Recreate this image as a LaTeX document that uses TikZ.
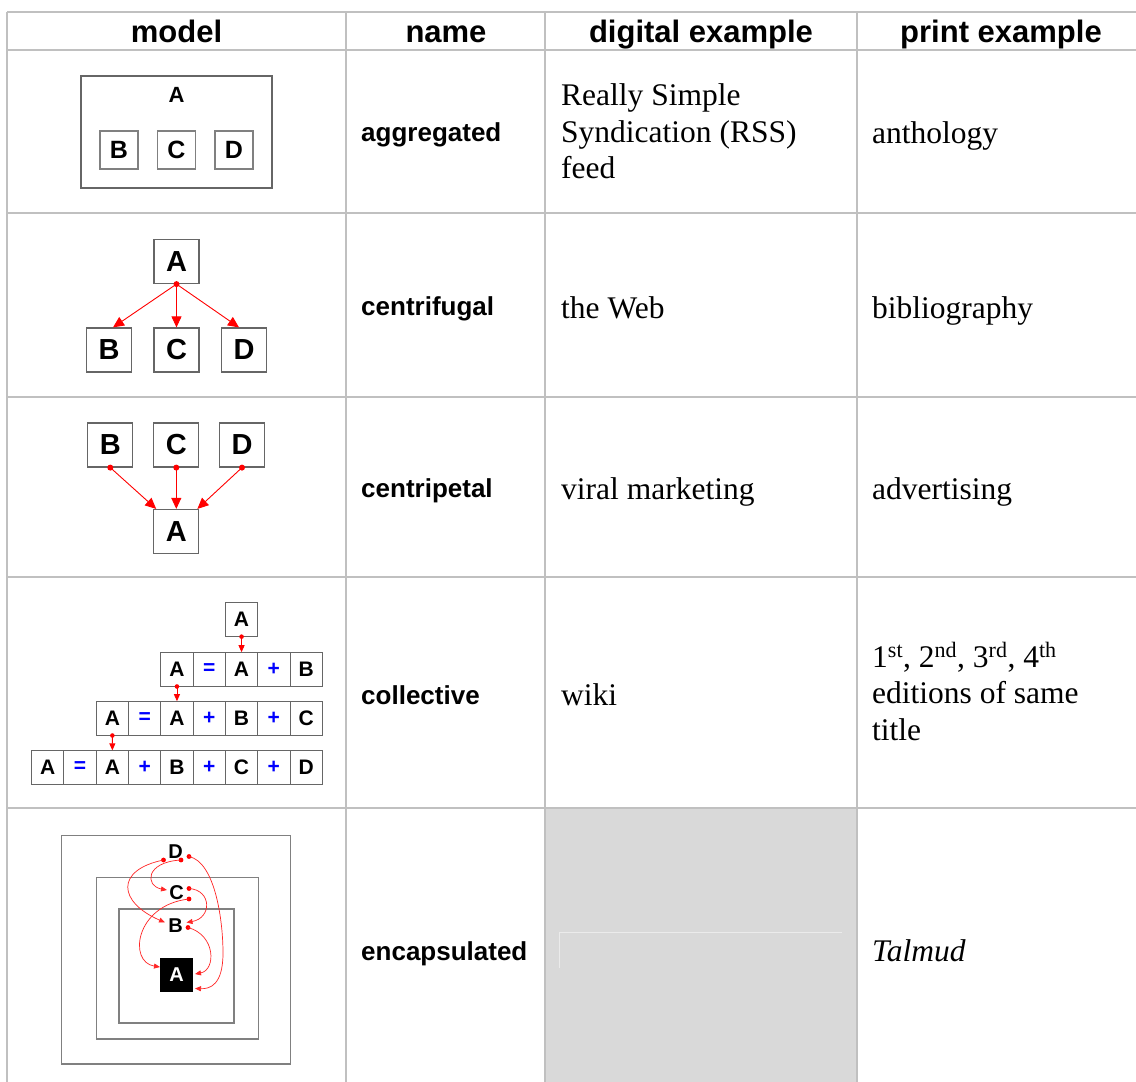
\documentclass[tikz,border=0pt]{standalone}
\usepackage{fontspec}
\setmainfont{Liberation Serif}
\newfontfamily\sansf{Liberation Sans}
\usetikzlibrary{arrows.meta}
\definecolor{gridgray}{HTML}{C0C0C0}
\definecolor{boxgray}{HTML}{666666}
\definecolor{lightbox}{HTML}{808080}
\definecolor{cellfill}{HTML}{D9D9D9}
\definecolor{faint}{HTML}{EBEBEB}
\definecolor{opblue}{HTML}{0000FF}
\newcommand\opsym[1]{\textcolor{opblue}{#1}}
\begin{document}
\begin{tikzpicture}[x=1pt,y=-1pt,
  grid/.style={draw=gridgray,line width=2pt},
  hdr/.style={font={\sansf\bfseries\fontsize{31}{31}\selectfont},inner sep=0pt,anchor=base},
  nm/.style={font={\sansf\bfseries\fontsize{26}{26}\selectfont},inner sep=0pt,anchor=base west},
  ex/.style={font={\fontsize{31.5}{36.5}\selectfont},inner sep=0pt,anchor=base west,align=left},
  bigl/.style={draw=boxgray,line width=1.2pt,inner sep=0pt,minimum width=45pt,minimum height=44pt,font={\sansf\bfseries\fontsize{29}{29}\selectfont}},
  smallb/.style={draw=lightbox,line width=1.2pt,inner sep=0pt,minimum size=38pt,font={\sansf\bfseries\fontsize{25}{25}\selectfont}},
  cell/.style={draw=boxgray,line width=1pt,inner sep=0pt,minimum width=32.3pt,minimum height=33.3pt,font={\sansf\bfseries\fontsize{21}{21}\selectfont}},
  encbox/.style={draw=lightbox,line width=1.2pt,inner sep=0pt},
  enclab/.style={inner sep=0pt,font={\sansf\bfseries\fontsize{20}{20}\selectfont}},
  rarrow/.style={draw=red,line width=0.9pt,-{Triangle[length=11pt,width=10pt]}},
  sarrow/.style={draw=red,line width=0.9pt,-{Triangle[length=7pt,width=6pt]}},
  tarrow/.style={draw=red!85,line width=0.7pt,-{Triangle[length=6pt,width=5pt]}}]
\useasboundingbox (0,0) rectangle (1136,1082);
\fill[white] (0,0) rectangle (1136,1082);
% gray cell
\fill[cellfill] (545,808) rectangle (857,1082);
\draw[faint,line width=1pt] (559.5,968) -- (559.5,932) -- (842,932);
% grid
\draw[grid] (7,12) -- (1136,12);
\foreach \yy in {50,213,397,577,808} \draw[grid] (7,\yy) -- (1136,\yy);
\foreach \xx in {7,346,545,857} \draw[grid] (\xx,12) -- (\xx,1082);
% header
\node[hdr] (hmodel) at (176.5,42) {model};
\node[hdr] (hname) at (446,42) {name};
\node[hdr] (hdig) at (701,42) {digital example};
\node[hdr] (hprint) at (1001,42) {print example};
% names
\node[nm] (n1) at (361,141) {aggregated};
\node[nm] (n2) at (361,315) {centrifugal};
\node[nm] (n3) at (361,497) {centripetal};
\node[nm] (n4) at (361,704) {collective};
\node[nm] (n5) at (361,960) {encapsulated};
% digital examples (base anchor = baseline of last line)
\node[ex] (d1) at (561,178.7) {Really Simple\\Syndication (RSS)\\feed};
\node[ex] (d2) at (561,318) {the Web};
\node[ex] (d3) at (561,499) {viral marketing};
\node[ex] (d4) at (561,705) {wiki};
% print examples
\node[ex] (p1) at (872,143) {anthology};
\node[ex] (p2) at (872,318) {bibliography};
\node[ex] (p3) at (872,499) {advertising};
\node[ex] (p4) at (872,740) {1\textsuperscript{st}, 2\textsuperscript{nd}, 3\textsuperscript{rd}, 4\textsuperscript{th}\\editions of same\\title};
\node[ex,font={\fontsize{31.5}{36.5}\selectfont\itshape}] (p5) at (872,961) {Talmud};
% row 1: aggregated
\node[draw=boxgray,line width=1.2pt,minimum width=191pt,minimum height=112pt,inner sep=0pt] (aggbox) at (176.5,132) {};
\node[inner sep=0pt,font={\sansf\bfseries\fontsize{22}{22}\selectfont}] (aggA) at (176.5,95) {A};
\node[smallb] (aggB) at (119,150) {B};
\node[smallb] (aggC) at (176.5,150) {C};
\node[smallb] (aggD) at (234,150) {D};
% row 2: centrifugal
\node[bigl] (cfA) at (176.5,261.5) {A};
\node[bigl] (cfB) at (109,350) {B};
\node[bigl] (cfC) at (176.5,350) {C};
\node[bigl] (cfD) at (244,350) {D};
\fill[red] (cfA.south) circle (3pt);
\draw[rarrow] (cfA.south) -- ([xshift=4pt]cfB.north);
\draw[rarrow] (cfA.south) -- (cfC.north);
\draw[rarrow] (cfA.south) -- ([xshift=-5pt]cfD.north);
% row 3: centripetal
\node[bigl] (cpB) at (110.3,445) {B};
\node[bigl] (cpC) at (176.3,445) {C};
\node[bigl] (cpD) at (242,445) {D};
\node[bigl] (cpA) at (176.3,531.5) {A};
\foreach \n in {cpB,cpC,cpD} \fill[red] (\n.south) circle (3pt);
\draw[rarrow] (cpB.south) -- ([xshift=3pt]cpA.north west);
\draw[rarrow] (cpC.south) -- (cpA.north);
\draw[rarrow] (cpD.south) -- ([xshift=-2pt]cpA.north east);
% row 4: collective
\node[cell] (rt) at (241.55,619.5) {A};
\foreach \t [count=\i] in {A,\opsym{=},A,\opsym{+},B}
  \node[cell] (ra\i) at ({160.8+16.15+(\i-1)*32.3},669.35) {\t};
\foreach \t [count=\i] in {A,\opsym{=},A,\opsym{+},B,\opsym{+},C}
  \node[cell] (rb\i) at ({96.2+16.15+(\i-1)*32.3},718.35) {\t};
\foreach \t [count=\i] in {A,\opsym{=},A,\opsym{+},B,\opsym{+},C,\opsym{+},D}
  \node[cell] (rc\i) at ({31.6+16.15+(\i-1)*32.3},767.5) {\t};
\fill[red] (rt.south) circle (2.3pt);
\fill[red] (ra1.south) circle (2.3pt);
\fill[red] (rb1.south) circle (2.3pt);
\draw[sarrow] (rt.south) -- (ra3.north);
\draw[sarrow] (ra1.south) -- (rb3.north);
\draw[sarrow] (rb1.south) -- (rc3.north);
% row 5: encapsulated
\node[encbox,minimum width=229pt,minimum height=228.3pt] (encO) at (176.2,949.85) {};
\node[encbox,minimum width=161.6pt,minimum height=161.3pt] (encM) at (177.5,958.35) {};
\node[encbox,minimum width=115pt,minimum height=114pt] (encI) at (176.5,966) {};
\node[fill=black,inner sep=0pt,minimum width=33.3pt,minimum height=34pt,text=white,font={\sansf\bfseries\fontsize{20}{20}\selectfont}] (eA) at (176.7,974.7) {A};
\node[enclab] (eD) at (175.5,852) {D};
\node[enclab] (eC) at (176.5,893) {C};
\node[enclab] (eB) at (175.5,926) {B};
\coordinate (dD1) at (163.5,860);
\coordinate (dD2) at (181,860);
\coordinate (dD3) at (189,856.5);
\coordinate (dC1) at (189,888.5);
\coordinate (dC2) at (189,899);
\coordinate (dB1) at (188,927.5);
\coordinate (tC) at (167,890);
\coordinate (tB1) at (165,922.5);
\coordinate (tB2) at (186.5,922.5);
\coordinate (tA1) at (160,967);
\coordinate (tA2) at (195,974);
\coordinate (tA3) at (195,988.5);
\foreach \c in {dD1,dD2,dD3,dC1,dC2,dB1} \fill[red] (\c) circle (2.4pt);
\draw[tarrow] (dD1) .. controls (115,870) and (118,902) .. (tB1);
\draw[tarrow] (dD2) .. controls (145,862) and (145,886) .. (tC);
\draw[tarrow] (dD3) .. controls (215,862) and (223,920) .. (223,953) .. controls (223,985) and (210,989) .. (tA3);
\draw[tarrow] (dC1) .. controls (212,890) and (212,918) .. (tB2);
\draw[tarrow] (dC2) .. controls (135,905) and (128,962) .. (tA1);
\draw[tarrow] (dB1) .. controls (216,935) and (216,970) .. (tA2);
\end{tikzpicture}
\end{document}
